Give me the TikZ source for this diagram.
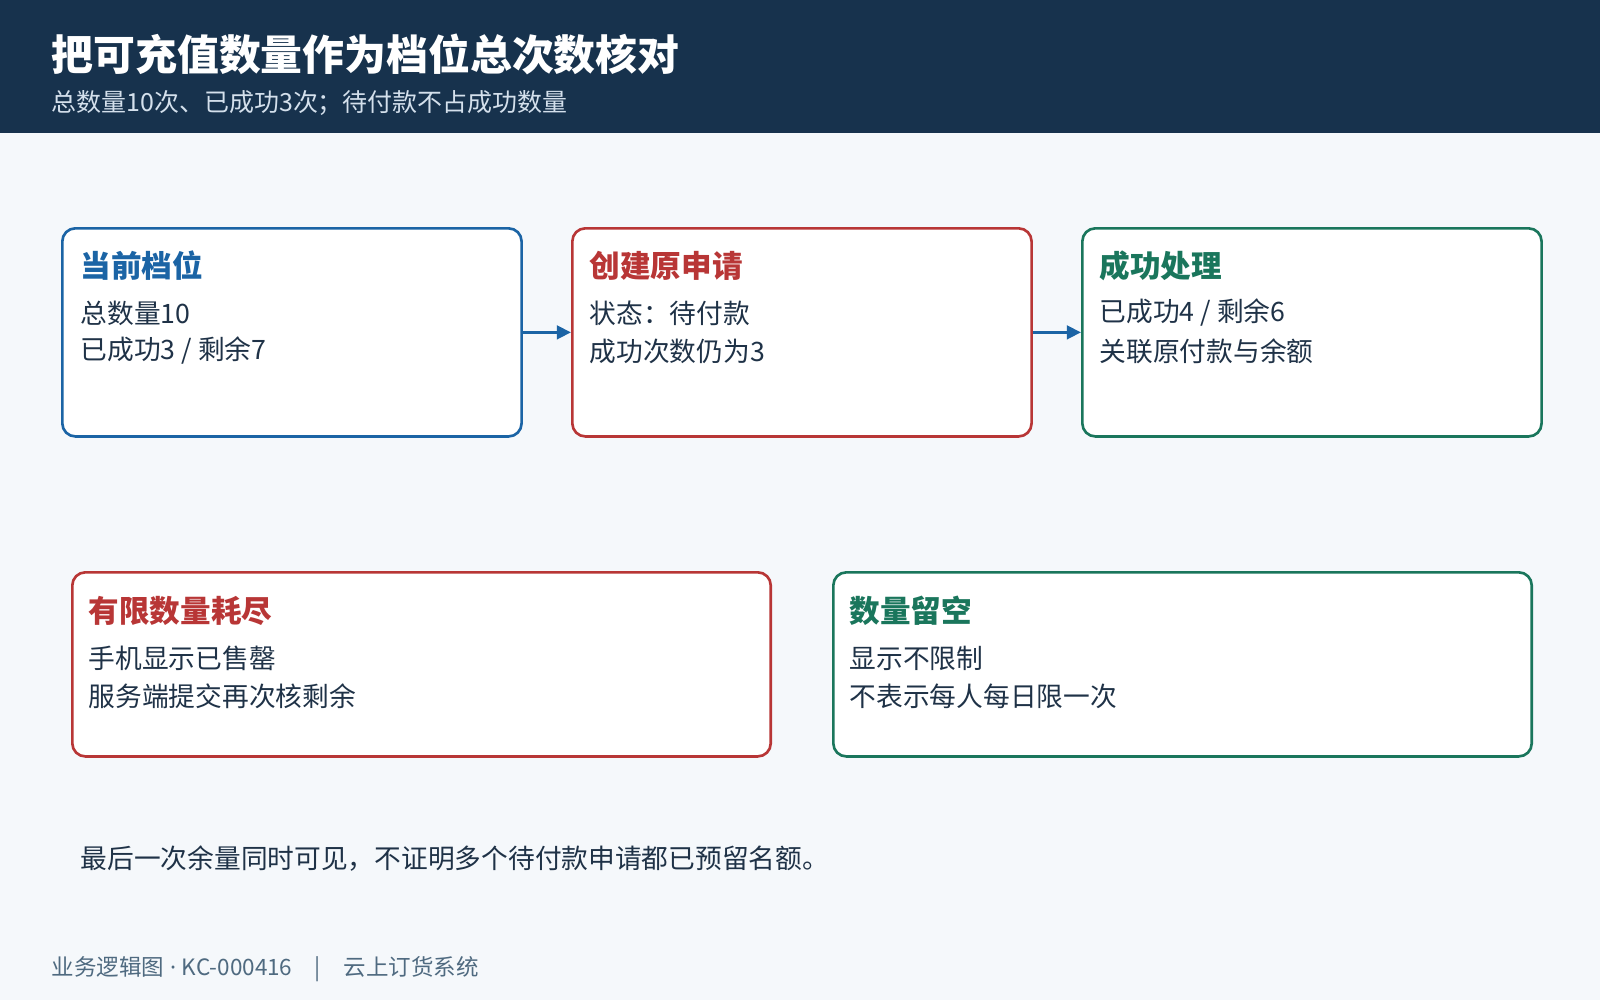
\documentclass[tikz,border=0pt]{standalone}
\usepackage{fontspec}
\setmainfont{Noto Sans CJK SC}
\newfontfamily\latinfont{Noto Sans}
\usetikzlibrary{arrows.meta,positioning}
\definecolor{headbg}{HTML}{17324D}
\definecolor{pagebg}{HTML}{F5F8FB}
\definecolor{cblue}{HTML}{1B64A5}
\definecolor{cred}{HTML}{B83636}
\definecolor{cgreen}{HTML}{1A765C}
\definecolor{ink}{HTML}{1F3247}
\definecolor{subink}{HTML}{D4E0EC}
\definecolor{footink}{HTML}{4F6A80}

\begin{document}
\begin{tikzpicture}[
    x=0.01cm, y=-0.01cm,
    >={Triangle[length=4pt,width=3.8pt]},
    card/.style={
		rectangle,
		rounded corners=0.13cm,
		draw=#1,
		line width=0.75pt,
		fill=white,
		anchor=north west,
		inner sep=0pt
	},
	cardtitle/.style={
		anchor=west,
		inner sep=0pt,
		text=#1,
		font=\fontsize{8.7pt}{10pt}\selectfont\bfseries
	},
	cardline/.style={
		anchor=west,
		inner sep=0pt,
		text=ink,
		font=\fontsize{7.6pt}{9pt}\selectfont
	},
	flow/.style={
		->,
		draw=cblue,
		line width=0.9pt
	}
  ]

% // background and header
\fill [pagebg] (0,0) rectangle (1600,1000);
\fill [headbg] (0,0) rectangle (1600,133);
\node [anchor=west, inner sep=0pt, text=white,
  font=\fontsize{11.9pt}{13pt}\selectfont\bfseries] (title) at (51,54)
  {把可充值数量作为档位总次数核对};
\node [anchor=west, inner sep=0pt, text=subink,
  font=\fontsize{7.1pt}{8pt}\selectfont] (subtitle) at (51,103)
  {总数量10次、已成功3次；待付款不占成功数量};

% // top row
\node [card=cblue, minimum width=4.59cm, minimum height=2.08cm] (box1) at (61,227) {};
\node [card=cred, minimum width=4.59cm, minimum height=2.08cm] (box2) at (571,227) {};
\node [card=cgreen, minimum width=4.59cm, minimum height=2.08cm] (box3) at (1081,227) {};

\node [cardtitle=cblue] (t1) at (80,266) {当前档位};
\node [cardline] (l11) at (80,313) {总数量10};
\node [cardline] (l12) at (80,351) {已成功3 / 剩余7};

\node [cardtitle=cred] (t2) at (589,266) {创建原申请};
\node [cardline] (l21) at (589,313) {状态：待付款};
\node [cardline] (l22) at (589,351) {成功次数仍为3};

\node [cardtitle=cgreen] (t3) at (1099,266) {成功处理};
\node [cardline] (l31) at (1099,313) {已成功4 / 剩余6};
\node [cardline] (l32) at (1099,351) {关联原付款与余额};

\draw [flow] (box1.east) -- (box2.west);
\draw [flow] (box2.east) -- (box3.west);

% // bottom row
\node [card=cred, minimum width=6.98cm, minimum height=1.84cm] (box4) at (71,571) {};
\node [card=cgreen, minimum width=6.98cm, minimum height=1.84cm] (box5) at (832,571) {};

\node [cardtitle=cred] (t4) at (88,611) {有限数量耗尽};
\node [cardline] (l41) at (88,658) {手机显示已售罄};
\node [cardline] (l42) at (88,696) {服务端提交再次核剩余};

\node [cardtitle=cgreen] (t5) at (849,611) {数量留空};
\node [cardline] (l51) at (849,658) {显示不限制};
\node [cardline] (l52) at (849,696) {不表示每人每日限一次};

% // note and footer
\node [cardline] (note) at (80,859) {最后一次余量同时可见，不证明多个待付款申请都已预留名额。};
\node [anchor=west, inner sep=0pt, text=footink,
  font=\fontsize{6.4pt}{7pt}\selectfont] (footer) at (51,969)
  {业务逻辑图{\latinfont\ ·\ }KC-000416\quad|\quad 云上订货系统};

\end{tikzpicture}
\end{document}
